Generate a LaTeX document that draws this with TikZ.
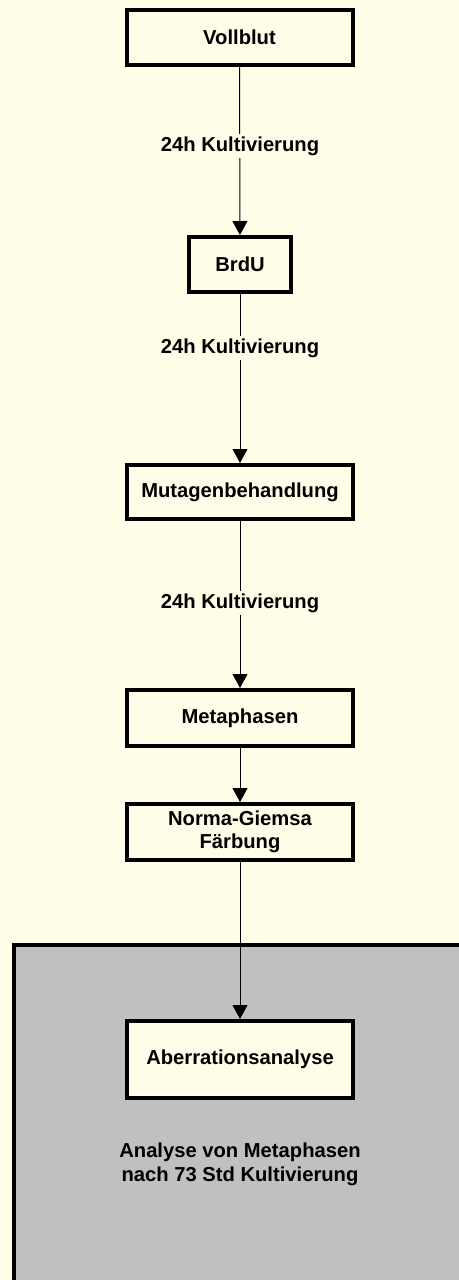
\documentclass[tikz,border=0pt]{standalone}
\usepackage{fontspec}
\setmainfont{Liberation Sans}
\usetikzlibrary{arrows.meta}
\definecolor{paper}{RGB}{255,253,232}
\definecolor{panel}{RGB}{191,192,191}
\begin{document}
\begin{tikzpicture}[x=0.5pt,y=-0.5pt,
  txt/.style={font=\fontsize{10.1}{11.5}\selectfont\bfseries, align=center},
  stepbox/.style={txt, draw=black, line width=2pt, fill=paper,
    minimum width=113pt, minimum height=27.5pt, inner sep=0pt},
  flow/.style={draw=black, line width=0.5pt, -{Triangle[width=7.5pt,length=7pt]}},
  steplabel/.style={txt, fill=paper, inner sep=1.5pt}
]
% page and the grey analysis panel running off the lower right
\path[use as bounding box] (0,0) rectangle (459,1280);
\fill[paper] (0,0) rectangle (459,1280);
\begin{scope}
  \clip (0,0) rectangle (459,1280);
  \draw[line width=2pt, fill=panel] (14,945) rectangle (490,1310);
\end{scope}

% process steps
\node[stepbox] (vollblut) at (239.5,37.5) {Vollblut};
\node[stepbox, minimum width=51pt] (brdu) at (240,264.5) {BrdU};
\node[stepbox, minimum height=27pt] (mutagen) at (240,492) {Mutagenbehandlung};
\node[stepbox, minimum height=28pt] (meta) at (240,718) {Metaphasen};
\node[stepbox, minimum height=28pt] (faerb) at (240,832) {Norma-Giemsa\\Färbung};
\node[stepbox, minimum height=38.5pt] (aberr) at (240,1059.5) {Aberrationsanalyse};

% connectors
\draw[flow] (vollblut) -- (brdu);
\draw[flow] (brdu) -- (mutagen);
\draw[flow] (mutagen) -- (meta);
\draw[flow] (meta) -- (faerb);
\draw[flow] (faerb) -- (aberr);

% connector labels
\node[steplabel] (k1) at (240,146) {24h Kultivierung};
\node[steplabel] (k2) at (240,348) {24h Kultivierung};
\node[steplabel] (k3) at (240,603) {24h Kultivierung};

% panel caption
\node[txt, font=\fontsize{10.1}{12}\selectfont\bfseries] (caption) at (240,1164)
  {Analyse von Metaphasen\\nach 73 Std Kultivierung};
\end{tikzpicture}
\end{document}
